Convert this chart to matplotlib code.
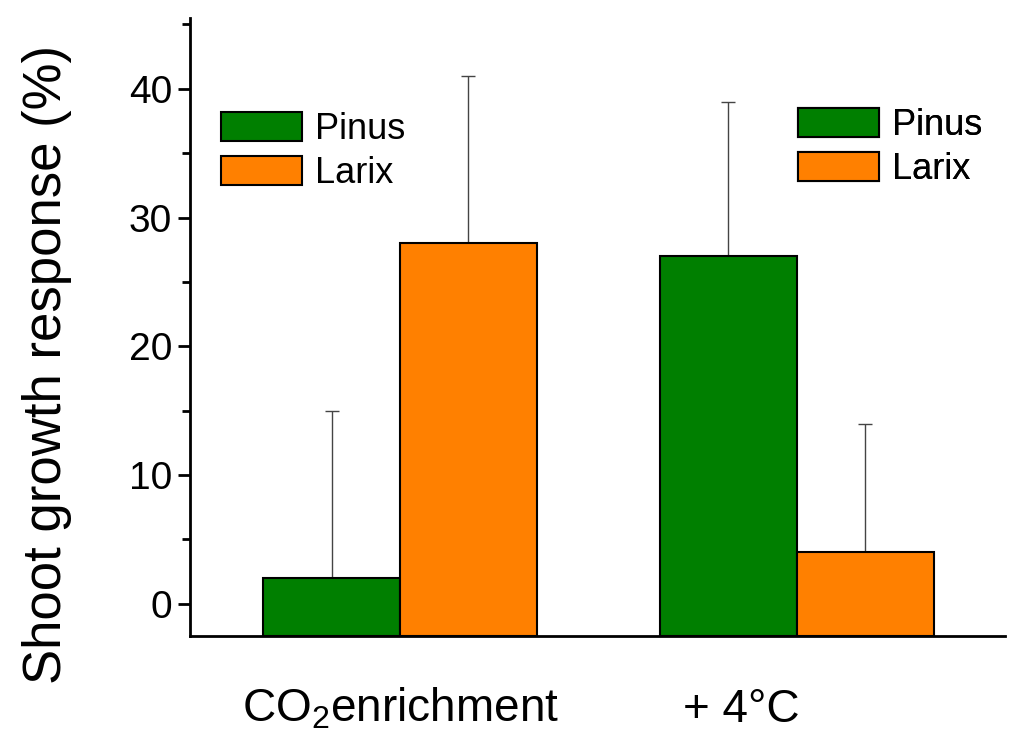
import matplotlib.pyplot as plt
from matplotlib.patches import Patch
from matplotlib.ticker import MultipleLocator
import matplotlib.transforms as mtransforms

plt.rcParams['font.family'] = ['Liberation Sans', 'DejaVu Sans']
plt.rcParams['mathtext.fontset'] = 'custom'
plt.rcParams['mathtext.rm'] = 'Liberation Sans'
plt.rcParams['mathtext.it'] = 'Liberation Sans'

# Shoot growth response (%) per treatment
treatments = ['CO$_2$enrichment', '+ 4°C']
species = ['Pinus', 'Larix']
pinus_mean = [2, 27]
pinus_err = [13, 12]
larix_mean = [28, 4]
larix_err = [13, 10]
colors = {'Pinus': '#007f00', 'Larix': '#ff8000'}

y_floor = -2.5
width = 0.345
centers = [1.0, 2.0]

fig = plt.figure(figsize=(10.13, 7.44), dpi=100)
ax = fig.add_axes([0.1876, 0.1452, 0.8044, 0.8306])

for means, errs, sp, off in [(pinus_mean, pinus_err, 'Pinus', -width / 2),
                             (larix_mean, larix_err, 'Larix', width / 2)]:
    xs = [c + off for c in centers]
    heights = [m - y_floor for m in means]
    ax.bar(xs, heights, width=width, bottom=y_floor, color=colors[sp],
           edgecolor='black', linewidth=1.5, zorder=2)
    ax.errorbar(xs, means, yerr=[[0] * len(errs), errs], fmt='none',
                ecolor='#444444', elinewidth=1, capsize=5, capthick=1, zorder=1)

ax.set_xlim(0.471, 2.524)
ax.set_ylim(y_floor, 45.5)
ax.yaxis.set_major_locator(MultipleLocator(10))
ax.yaxis.set_minor_locator(MultipleLocator(5))
ax.set_xticks([])
ax.tick_params(axis='y', which='major', direction='out', length=9, width=2,
               labelsize=28, pad=4)
ax.tick_params(axis='y', which='minor', direction='out', length=6, width=2)
for s in ['top', 'right']:
    ax.spines[s].set_visible(False)
for s in ['left', 'bottom']:
    ax.spines[s].set_linewidth(2)

ax.set_ylabel('Shoot growth response (%)', fontsize=38)
ax.yaxis.set_label_coords(-0.145, 0.4385)

# treatment labels under the axis
trans = mtransforms.blended_transform_factory(ax.transData, fig.transFigure)
label_x = [1.0, 1.86]
for x, t in zip(label_x, treatments):
    ax.text(x, 0.03, t, transform=trans, ha='center', va='baseline', fontsize=33)

handles = [Patch(facecolor=colors[s], edgecolor='black', linewidth=1.5) for s in species]
for anchor in [(0.038, 0.848), (0.746, 0.854)]:
    leg = ax.legend(handles, species, loc='upper left', bbox_to_anchor=anchor,
                    frameon=False, fontsize=26, handlelength=2.25, handleheight=0.86,
                    labelspacing=0.25, handletextpad=0.36, borderpad=0,
                    borderaxespad=0)
    ax.add_artist(leg)

fig.savefig('out.png', dpi=100)
